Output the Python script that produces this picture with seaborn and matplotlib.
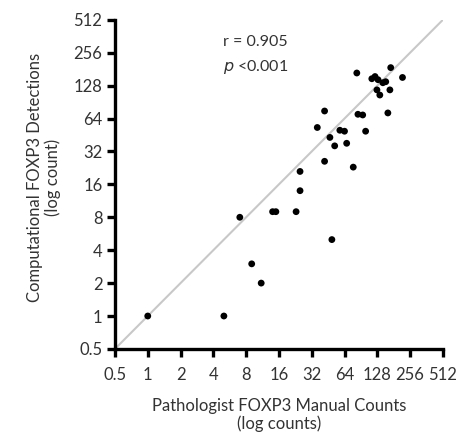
import matplotlib
matplotlib.use("Agg")
import matplotlib.pyplot as plt
import seaborn as sns
import pandas as pd

# Data
pathologist = [83, 170, 218, 114, 122, 130, 144, 153, 167, 127, 135, 160, 42, 85, 94,
               36, 58, 64, 100, 47, 52, 67, 42, 77, 25, 25, 7, 14, 15, 23, 49, 9, 11, 1, 5]
computational = [167, 187, 152, 148, 155, 145, 136, 139, 117, 117, 105, 72, 75, 70, 69,
                 53, 50, 49, 49, 43, 36, 38, 26, 23, 21, 14, 8, 9, 9, 9, 5, 3, 2, 1, 1]
tick_values = [0.5, 1, 2, 4, 8, 16, 32, 64, 128, 256, 512]
tick_labels = ["0.5", "1", "2", "4", "8", "16", "32", "64", "128", "256", "512"]
identity = [0.5, 512]

df = pd.DataFrame({"x": pathologist, "y": computational})

sns.set_theme(style="ticks")
plt.rcParams["font.family"] = ["Lato", "DejaVu Sans"]

fig = plt.figure(figsize=(4.58, 4.40), dpi=100)
ax = fig.add_axes([0.251, 0.207, 0.716, 0.748])

ax.plot(identity, identity, color="#c8c8c8", lw=1.5, zorder=1)
sns.scatterplot(data=df, x="x", y="y", ax=ax, color="black", s=24,
                edgecolor="none", zorder=3, clip_on=False)

ax.set_xscale("log", base=2)
ax.set_yscale("log", base=2)
ax.set_xlim(0.5, 512)
ax.set_ylim(0.5, 512)
ax.set_xticks(tick_values)
ax.set_xticklabels(tick_labels)
ax.set_yticks(tick_values)
ax.set_yticklabels(tick_labels)
ax.minorticks_off()

for s in ["top", "right"]:
    ax.spines[s].set_visible(False)
for s in ["left", "bottom"]:
    ax.spines[s].set_linewidth(2.4)
    ax.spines[s].set_color("black")
ax.tick_params(axis="both", direction="out", length=6, width=2.4, color="black",
               labelsize=12, labelcolor="#333333")
ax.tick_params(axis="x", pad=7)
ax.tick_params(axis="y", pad=3)

ax.set_xlabel("Pathologist FOXP3 Manual Counts\n(log counts)", fontsize=12,
              color="#333333", labelpad=11, linespacing=1.1)
ax.set_ylabel("Computational FOXP3 Detections\n(log count)", fontsize=12,
              color="#333333", labelpad=10, linespacing=1.1)
ax.yaxis.set_label_coords(-0.165, 0.52)

ax.text(0.329, 0.933, "r = 0.905", transform=ax.transAxes, fontsize=11.5,
        color="#333333", ha="left", va="center")
ax.text(0.329, 0.857, r"$\it{p}$ <0.001", transform=ax.transAxes, fontsize=11.5,
        color="#333333", ha="left", va="center")

fig.savefig("out.png", dpi=100)
